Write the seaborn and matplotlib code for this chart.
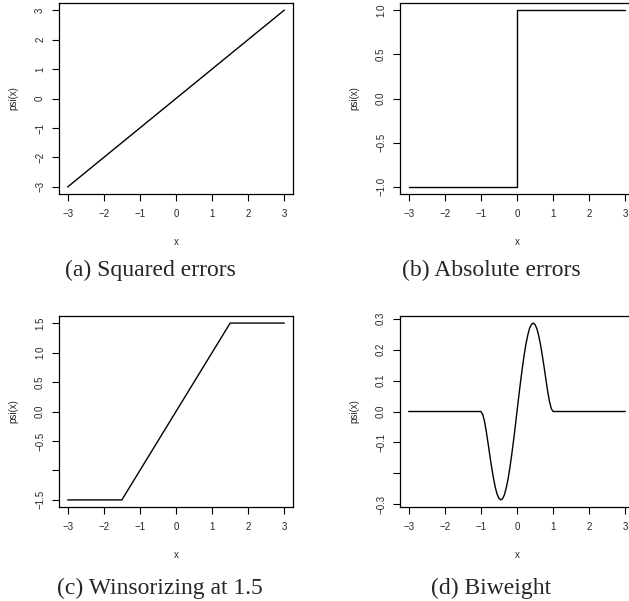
import numpy as np
import pandas as pd
import seaborn as sns
import matplotlib.pyplot as plt

# psi functions, values
sq_x = [-3, 3]
sq_y = [-3, 3]

abs_x = [-3, 0, 0, 3]
abs_y = [-1, -1, 1, 1]

win_x = [-3, -1.5, 1.5, 3]
win_y = [-1.5, -1.5, 1.5, 1.5]

bw_x = [-3, -1.0, -0.95, -0.9, -0.85, -0.8, -0.75, -0.7, -0.65, -0.6, -0.55, -0.5,
        -0.45, -0.4, -0.35, -0.3, -0.25, -0.2, -0.15, -0.1, -0.05, 0.0,
        0.05, 0.1, 0.15, 0.2, 0.25, 0.3, 0.35, 0.4, 0.45, 0.5, 0.55, 0.6,
        0.65, 0.7, 0.75, 0.8, 0.85, 0.9, 0.95, 1.0, 3]
bw_y = [0, 0, -0.009, -0.032, -0.065, -0.104, -0.144, -0.182, -0.217, -0.246, -0.268, -0.281,
        -0.286, -0.282, -0.270, -0.248, -0.220, -0.184, -0.143, -0.098, -0.050, 0.0,
        0.050, 0.098, 0.143, 0.184, 0.220, 0.248, 0.270, 0.282, 0.286, 0.281, 0.268, 0.246,
        0.217, 0.182, 0.144, 0.104, 0.065, 0.032, 0.009, 0, 0]

x_ticks = [-3, -2, -1, 0, 1, 2, 3]
x_labels = ["\u22123", "\u22122", "\u22121", "0", "1", "2", "3"]

panels = [
    dict(x=sq_x, y=sq_y, ylim=3.24,
         yticks=[-3, -2, -1, 0, 1, 2, 3],
         ylabels=["\u22123", "\u22122", "\u22121", "0", "1", "2", "3"],
         caption="(a) Squared errors", pos=(59, 3), cap=(150, 270)),
    dict(x=abs_x, y=abs_y, ylim=1.08,
         yticks=[-1.0, -0.5, 0.0, 0.5, 1.0],
         ylabels=["\u22121.0", "\u22120.5", "0.0", "0.5", "1.0"],
         caption="(b) Absolute errors", pos=(400, 3), cap=(491, 270)),
    dict(x=win_x, y=win_y, ylim=1.62,
         yticks=[-1.5, -1.0, -0.5, 0.0, 0.5, 1.0, 1.5],
         ylabels=["\u22121.5", "", "\u22120.5", "0.0", "0.5", "1.0", "1.5"],
         caption="(c) Winsorizing at 1.5", pos=(59, 316), cap=(160, 588)),
    dict(x=bw_x, y=bw_y, ylim=0.309,
         yticks=[-0.3, -0.2, -0.1, 0.0, 0.1, 0.2, 0.3],
         ylabels=["\u22120.3", "", "\u22120.1", "0.0", "0.1", "0.2", "0.3"],
         caption="(d) Biweight", pos=(400, 316), cap=(491, 588)),
]

sns.set_style("ticks")
plt.rcParams["font.family"] = ["Liberation Sans", "DejaVu Sans"]

W, H = 629, 601
fig = plt.figure(figsize=(W / 100, H / 100), dpi=100)

for p in panels:
    left, top = p["pos"]
    ax = fig.add_axes([left / W, (H - top - 191) / H, 234 / W, 191 / H])
    df = pd.DataFrame({"x": p["x"], "y": p["y"]})
    sns.lineplot(data=df, x="x", y="y", ax=ax, color="black", linewidth=1.0,
                 estimator=None, sort=False)
    ax.set_xlim(-3.24, 3.24)
    ax.set_ylim(-p["ylim"], p["ylim"])
    ax.set_xticks(x_ticks)
    ax.set_xticklabels(x_labels, fontsize=7)
    ax.set_yticks(p["yticks"])
    ax.set_yticklabels(p["ylabels"], fontsize=7, rotation=90, va="center")
    ax.tick_params(length=5, width=0.8, color="black", pad=5)
    ax.tick_params(axis="x", pad=6)
    for s in ax.spines.values():
        s.set_visible(True)
        s.set_linewidth(0.9)
        s.set_color("black")
    ax.set_xlabel("x", fontsize=7, labelpad=13)
    ax.set_ylabel("psi(x)", fontsize=7, labelpad=12)
    fig.text(p["cap"][0] / W, 1 - p["cap"][1] / H, p["caption"],
             fontsize=17, family="Liberation Serif", ha="center", va="center")

fig.savefig("out.png", dpi=100)
